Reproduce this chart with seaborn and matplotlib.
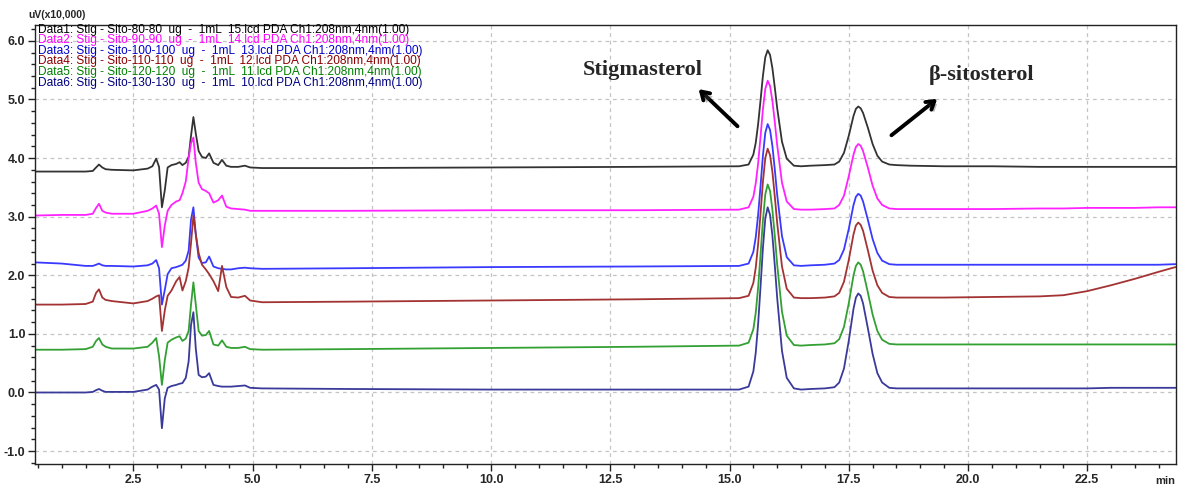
import matplotlib
matplotlib.use("Agg")
import matplotlib.pyplot as plt
import matplotlib.patheffects as pe
from matplotlib.ticker import MultipleLocator, FormatStrFormatter
import pandas as pd
import seaborn as sns

# Retention time grid (min), shared by all six runs
time_min = [
    0.45, 1.0, 1.5, 1.65, 1.72, 1.78, 1.85, 1.92, 2.05, 2.5, 2.8, 2.9, 2.98, 3.04,
    3.1, 3.16, 3.22, 3.3, 3.4, 3.47, 3.53, 3.6, 3.66, 3.71, 3.76, 3.81, 3.87, 3.94,
    4.02, 4.09, 4.18, 4.28, 4.36, 4.45, 4.55, 4.7, 4.84, 4.95, 5.2, 7.0, 10.0, 13.0,
    15.2,
    15.4, 15.5, 15.55, 15.6, 15.65, 15.7, 15.75, 15.8, 15.85, 15.9, 15.95, 16.0,
    16.1, 16.2, 16.35, 16.5, 16.7, 17.0,
    17.2, 17.3, 17.4, 17.5, 17.6, 17.65, 17.7, 17.75, 17.8, 17.9, 18.0, 18.1, 18.2,
    18.35, 18.5, 18.8,
    19.5, 20.5, 21.5, 22.0, 22.5, 23.0, 23.5, 24.0, 24.35,
]

# Detector signal, uV (x10,000), one list per injection
data1 = [
    3.77, 3.77, 3.77, 3.78, 3.84, 3.89, 3.84, 3.81, 3.80, 3.79, 3.82, 3.86, 3.99, 3.85,
    3.16, 3.45, 3.84, 3.88, 3.90, 3.93, 3.88, 3.92, 4.02, 4.38, 4.70, 4.42, 4.12, 4.02,
    4.00, 4.08, 3.92, 3.88, 3.97, 3.87, 3.85, 3.85, 3.87, 3.84, 3.83, 3.83, 3.84, 3.85,
    3.86,
    3.89, 4.06, 4.26, 4.58, 4.98, 5.40, 5.72, 5.84, 5.76, 5.53, 5.20, 4.85,
    4.28, 3.99, 3.87, 3.86, 3.87, 3.88,
    3.89, 3.94, 4.09, 4.38, 4.72, 4.84, 4.88, 4.85, 4.77, 4.52, 4.24, 4.04, 3.94,
    3.89, 3.88, 3.87,
    3.86, 3.86, 3.85, 3.85, 3.85, 3.85, 3.85, 3.85, 3.85,
]
data2 = [
    3.02, 3.03, 3.03, 3.05, 3.15, 3.22, 3.10, 3.07, 3.05, 3.05, 3.10, 3.14, 3.19, 3.05,
    2.48, 2.85, 3.10, 3.20, 3.26, 3.28, 3.40, 3.60, 4.00, 4.25, 4.35, 3.92, 3.58, 3.47,
    3.44, 3.40, 3.24, 3.28, 3.36, 3.17, 3.14, 3.13, 3.12, 3.10, 3.10, 3.10, 3.11, 3.11,
    3.12,
    3.16, 3.34, 3.57, 3.91, 4.36, 4.83, 5.18, 5.32, 5.23, 4.97, 4.61, 4.22,
    3.58, 3.26, 3.13, 3.12, 3.12, 3.13,
    3.14, 3.20, 3.36, 3.69, 4.06, 4.19, 4.24, 4.21, 4.12, 3.84, 3.53, 3.31, 3.20,
    3.14, 3.13, 3.13,
    3.13, 3.13, 3.14, 3.14, 3.15, 3.15, 3.15, 3.16, 3.16,
]
data3 = [
    2.22, 2.20, 2.16, 2.16, 2.18, 2.20, 2.17, 2.16, 2.16, 2.15, 2.17, 2.20, 2.26, 2.12,
    1.50, 1.75, 2.02, 2.12, 2.14, 2.16, 2.18, 2.25, 2.42, 2.95, 3.16, 2.70, 2.30, 2.21,
    2.22, 2.32, 2.15, 2.12, 2.11, 2.10, 2.10, 2.12, 2.13, 2.12, 2.11, 2.12, 2.14, 2.15,
    2.16,
    2.20, 2.40, 2.65, 3.03, 3.52, 4.04, 4.43, 4.58, 4.48, 4.20, 3.80, 3.37,
    2.67, 2.31, 2.17, 2.16, 2.17, 2.18,
    2.20, 2.26, 2.44, 2.79, 3.20, 3.34, 3.39, 3.36, 3.26, 2.95, 2.62, 2.38, 2.25,
    2.19, 2.18, 2.18,
    2.18, 2.18, 2.18, 2.18, 2.18, 2.18, 2.18, 2.18, 2.19,
]
data4 = [
    1.50, 1.50, 1.51, 1.55, 1.70, 1.76, 1.62, 1.58, 1.56, 1.52, 1.56, 1.60, 1.64, 1.66,
    1.05, 1.40, 1.65, 1.74, 1.90, 1.97, 1.74, 1.90, 2.13, 2.55, 3.02, 2.70, 2.38, 2.18,
    2.10, 2.02, 1.90, 1.73, 2.16, 1.80, 1.63, 1.62, 1.65, 1.57, 1.54, 1.55, 1.57, 1.59,
    1.61,
    1.65, 1.87, 2.13, 2.53, 3.05, 3.59, 4.00, 4.16, 4.05, 3.76, 3.34, 2.89,
    2.15, 1.77, 1.62, 1.61, 1.61, 1.62,
    1.64, 1.70, 1.89, 2.26, 2.70, 2.85, 2.90, 2.86, 2.76, 2.43, 2.08, 1.83, 1.70,
    1.63, 1.62, 1.62,
    1.62, 1.63, 1.64, 1.66, 1.73, 1.83, 1.94, 2.06, 2.14,
]
data5 = [
    0.73, 0.73, 0.74, 0.78, 0.88, 0.93, 0.82, 0.78, 0.75, 0.75, 0.78, 0.85, 0.93, 0.62,
    0.13, 0.55, 0.85, 0.90, 0.94, 0.96, 0.88, 0.92, 1.05, 1.50, 1.88, 1.50, 1.05, 0.97,
    0.98, 1.05, 0.82, 0.80, 0.89, 0.78, 0.76, 0.76, 0.78, 0.74, 0.73, 0.74, 0.76, 0.78,
    0.80,
    0.85, 1.08, 1.36, 1.79, 2.35, 2.93, 3.38, 3.55, 3.44, 3.11, 2.67, 2.18,
    1.38, 0.97, 0.81, 0.80, 0.81, 0.82,
    0.84, 0.91, 1.12, 1.52, 2.00, 2.16, 2.22, 2.18, 2.07, 1.71, 1.33, 1.05, 0.90,
    0.83, 0.82, 0.82,
    0.82, 0.82, 0.82, 0.82, 0.82, 0.82, 0.82, 0.82, 0.82,
]
data6 = [
    0.00, 0.00, 0.00, 0.01, 0.04, 0.06, 0.03, 0.01, 0.01, 0.01, 0.05, 0.10, 0.13, 0.05,
    -0.61, -0.10, 0.08, 0.11, 0.13, 0.15, 0.16, 0.25, 0.53, 1.15, 1.37, 0.75, 0.30, 0.26,
    0.27, 0.33, 0.13, 0.11, 0.10, 0.10, 0.10, 0.11, 0.12, 0.08, 0.07, 0.06, 0.05, 0.05,
    0.05,
    0.10, 0.36, 0.68, 1.17, 1.80, 2.46, 2.97, 3.16, 3.03, 2.67, 2.16, 1.61,
    0.71, 0.25, 0.07, 0.05, 0.06, 0.07,
    0.09, 0.17, 0.41, 0.88, 1.43, 1.62, 1.69, 1.65, 1.52, 1.10, 0.66, 0.33, 0.17,
    0.08, 0.07, 0.07,
    0.07, 0.07, 0.07, 0.07, 0.07, 0.08, 0.08, 0.08, 0.08,
]

run_labels = [
    "Data1: Stig - Sito-80-80  ug  -  1mL  15.lcd PDA Ch1:208nm,4nm(1.00)",
    "Data2: Stig - Sito-90-90  ug  -  1mL  14.lcd PDA Ch1:208nm,4nm(1.00)",
    "Data3: Stig - Sito-100-100  ug  -  1mL  13.lcd PDA Ch1:208nm,4nm(1.00)",
    "Data4: Stig - Sito-110-110  ug  -  1mL  12.lcd PDA Ch1:208nm,4nm(1.00)",
    "Data5: Stig - Sito-120-120  ug  -  1mL  11.lcd PDA Ch1:208nm,4nm(1.00)",
    "Data6: Stig - Sito-130-130  ug  -  1mL  10.lcd PDA Ch1:208nm,4nm(1.00)",
]
line_colors = ["#333333", "#ff22ff", "#3a3aff", "#a33333", "#33a033", "#3a3a9a"]
label_colors = ["#000000", "#ff00ff", "#0000cc", "#8b0000", "#008000", "#000080"]
signals = [data1, data2, data3, data4, data5, data6]

sns.set_style("white")
plt.rcParams["font.family"] = ["Liberation Sans Narrow", "Liberation Sans", "DejaVu Sans"]

frames = [pd.DataFrame({"time": time_min, "signal": s, "run": lab})
          for lab, s in zip(run_labels, signals)]
df = pd.concat(frames, ignore_index=True)

fig = plt.figure(figsize=(11.84, 4.91), dpi=100)
ax = fig.add_axes([0.0296, 0.055, 0.9636, 0.894])

ax.grid(True, which="major", color="#c4c4c4", linestyle=(0, (3, 3)), linewidth=0.9)
ax.set_axisbelow(True)

sns.lineplot(data=df, x="time", y="signal", hue="run",
             palette=dict(zip(run_labels, line_colors)),
             estimator=None, sort=False, legend=False, linewidth=1.3, ax=ax)

ax.set_xlim(0.44, 24.36)
ax.set_ylim(-1.22, 6.27)
ax.xaxis.set_major_locator(MultipleLocator(2.5))
ax.xaxis.set_minor_locator(MultipleLocator(0.5))
ax.yaxis.set_major_locator(MultipleLocator(1.0))
ax.yaxis.set_minor_locator(MultipleLocator(0.2))
ax.xaxis.set_major_formatter(FormatStrFormatter("%.1f"))
ax.yaxis.set_major_formatter(FormatStrFormatter("%.1f"))
ax.tick_params(which="major", direction="out", length=5, width=1, color="#222222",
               labelsize=9, pad=2, bottom=True, left=True)
ax.tick_params(which="minor", direction="out", length=3, width=1, color="#222222",
               bottom=True, left=True)
for lab in ax.get_xticklabels() + ax.get_yticklabels():
    lab.set_fontweight("bold")
ax.set_xlabel("")
ax.set_ylabel("")
for sp in ax.spines.values():
    sp.set_color("#222222")
    sp.set_linewidth(1.0)

# Units of the axes
fig.text(28 / 1184, 1 - 15 / 491, "uV(x10,000)", fontsize=7.5, fontweight="bold",
         ha="left", va="center")
fig.text(1165 / 1184, 1 - 481 / 491, "min", fontsize=8, fontweight="bold",
         ha="center", va="center")

# Run list in the upper-left corner
row_y = [0.989, 0.965, 0.941, 0.917, 0.893, 0.869]
for lab, col, yy in zip(run_labels, label_colors, row_y):
    ax.text(0.003, yy, lab, transform=ax.transAxes, color=col, fontsize=8.6,
            ha="left", va="center")

# Compound annotations
shadow = [pe.SimplePatchShadow(offset=(2, -2), alpha=0.35), pe.Normal()]
ax.annotate("", xy=(14.31, 5.21), xytext=(15.21, 4.51),
            arrowprops=dict(arrowstyle="->,head_length=0.55,head_width=0.35",
                            color="black", lw=2.8, path_effects=shadow))
ax.annotate("", xy=(19.4, 5.04), xytext=(18.35, 4.36),
            arrowprops=dict(arrowstyle="->,head_length=0.55,head_width=0.35",
                            color="black", lw=2.8, path_effects=shadow))
ax.text(13.18, 5.51, "Stigmasterol", fontsize=16, fontweight="bold",
        family=["Liberation Serif", "DejaVu Serif"], ha="center", va="center")
ax.text(20.28, 5.42, "\u03b2-sitosterol", fontsize=16, fontweight="bold",
        family=["Liberation Serif", "DejaVu Serif"], ha="center", va="center")

fig.savefig("out.png", dpi=100)
